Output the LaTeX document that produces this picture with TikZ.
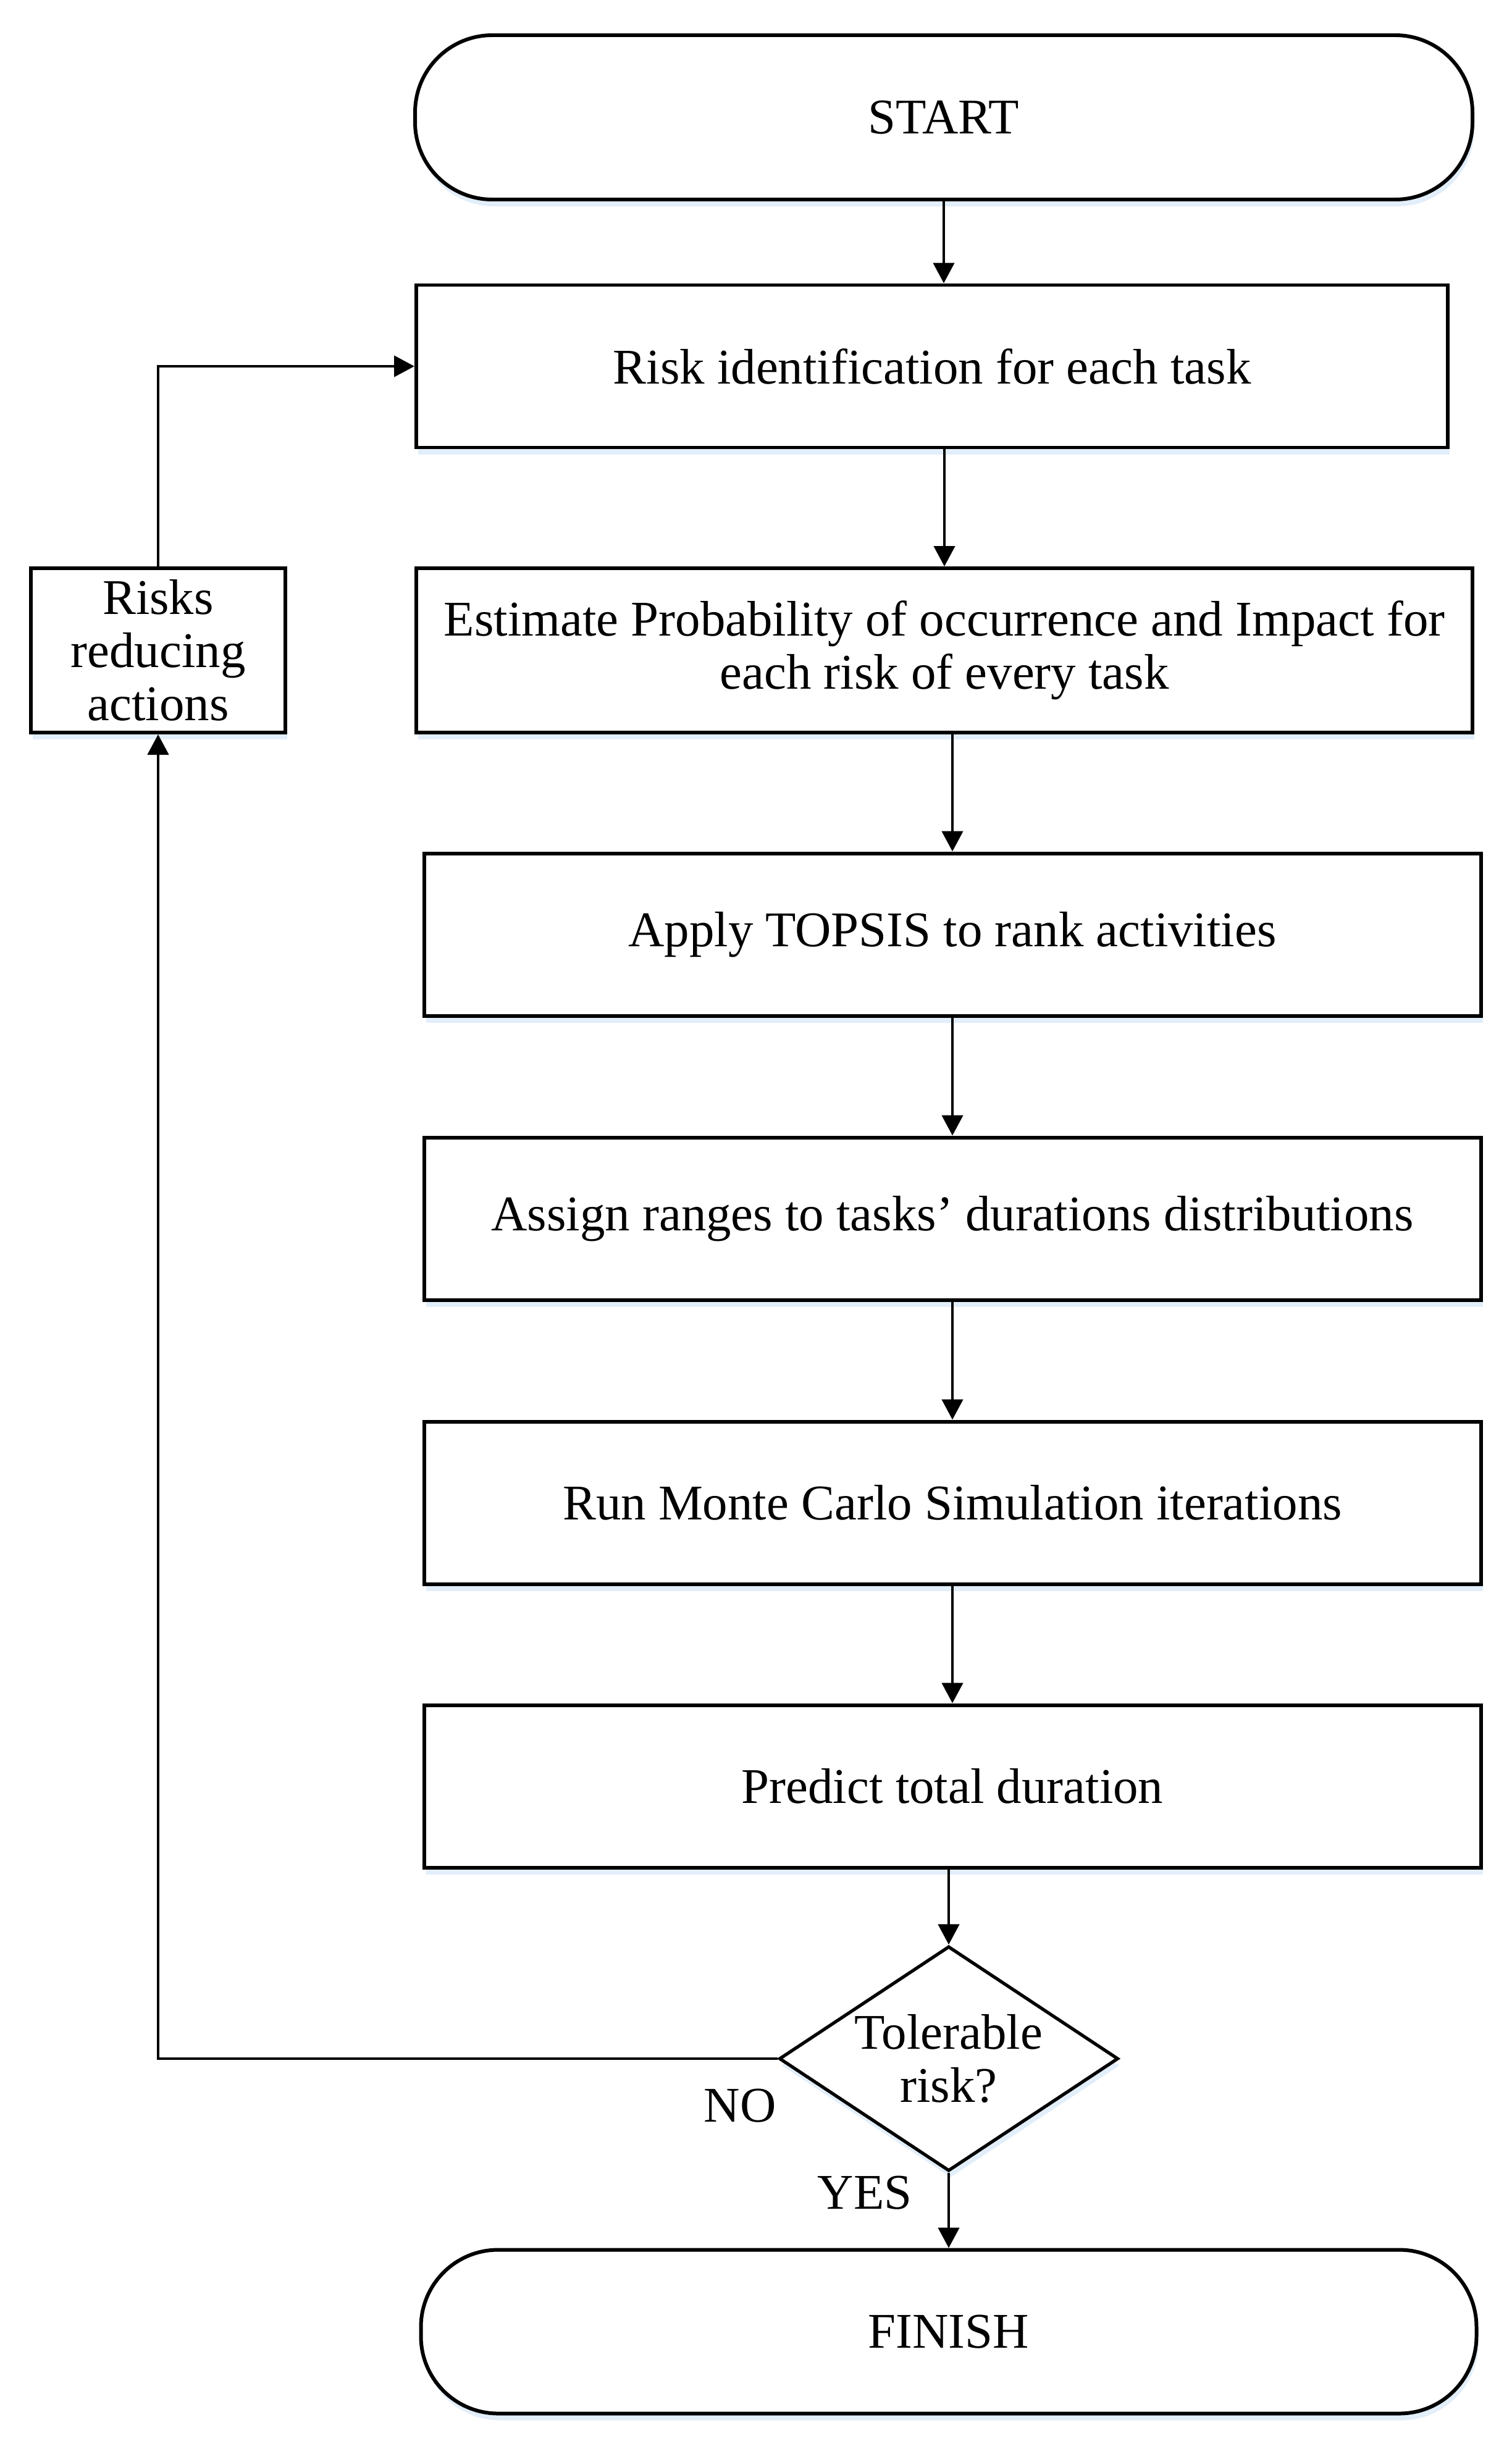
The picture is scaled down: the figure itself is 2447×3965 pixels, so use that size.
\documentclass[tikz,border=0pt]{standalone}
\usepackage{fontspec}
\setmainfont{Liberation Serif}
\usetikzlibrary{arrows.meta,shapes.geometric,shadows}
\definecolor{glow}{RGB}{226,238,250}
\tikzset{
  txt/.style={font=\fontsize{23}{24.5}\selectfont, align=center},
  glowshadow/.style={drop shadow={shadow xshift=0.3mm, shadow yshift=-1.1mm, fill=glow, opacity=1}},
  procbox/.style={draw, line width=1.7pt, fill=white, inner sep=0pt, minimum height=26.3mm, txt, glowshadow},
  termbox/.style={draw, line width=1.7pt, fill=white, inner sep=0pt, minimum height=26.6mm, rounded corners=12.5mm, txt, glowshadow},
  decision/.style={draw, diamond, line width=1.5pt, fill=white, inner sep=0pt, minimum width=54.9mm, minimum height=36.4mm, glowshadow},
  arr/.style={line width=1.3pt, -{Triangle[length=3.3mm, width=3.4mm]}},
  conn/.style={line width=1.3pt}
}
\begin{document}
\begin{tikzpicture}[x=0.1mm, y=-0.1mm]
\useasboundingbox (0,0) rectangle (2447,3965);

\node[termbox, minimum width=171.2mm] (start) at (1528,190) {START};
\node[procbox, minimum width=167mm] (box1) at (1509,593) {Risk identification for each task};
\node[procbox, minimum width=171mm, minimum height=26.6mm] (est) at (1529,1053) {Estimate Probability of occurrence and Impact for\\each risk of every task};
\node[procbox, minimum width=41.2mm, minimum height=26.6mm] (risks) at (256,1053) {Risks\\reducing\\actions};
\node[procbox, minimum width=171.1mm] (topsis) at (1542,1513) {Apply TOPSIS to rank activities};
\node[procbox, minimum width=171.1mm] (assign) at (1542,1973) {Assign ranges to tasks’ durations distributions};
\node[procbox, minimum width=171.1mm] (run) at (1542,2433) {Run Monte Carlo Simulation iterations};
\node[procbox, minimum width=171.1mm] (pred) at (1542,2892) {Predict total duration};
\node[decision, label={[txt]center:Tolerable\\risk?}] (dec) at (1536,3333) {};
\node[termbox, minimum width=170.9mm, minimum height=26.5mm] (finish) at (1536,3775) {FINISH};

\node[txt] (no) at (1198,3409) {NO};
\node[txt] (yes) at (1400,3550) {YES};

\draw[arr] (start.south) -- (start.south |- box1.north);
\draw[arr] (box1.south -| est.north) -- (est.north);
\draw[arr] (est.south -| topsis.north) -- (topsis.north);
\draw[arr] (topsis.south) -- (assign.north);
\draw[arr] (assign.south) -- (run.north);
\draw[arr] (run.south) -- (pred.north);
\draw[arr] (pred.south -| dec.north) -- (dec.north);
\draw[arr] (dec.south) -- (dec.south |- finish.north);
\draw[arr] (dec.west) -| (risks.south);
\draw[arr] (risks.north) |- (box1.west);
\end{tikzpicture}
\end{document}
